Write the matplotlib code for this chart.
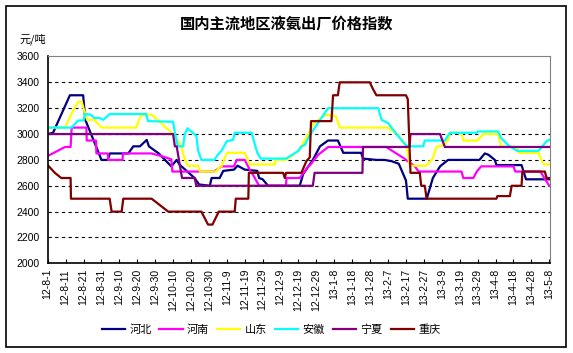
import matplotlib
matplotlib.use('Agg')
import matplotlib.pyplot as plt
from matplotlib.patches import Rectangle

plt.rcParams['font.family'] = ['Liberation Sans', 'Noto Sans CJK SC']

# days counted from 2012-08-01, values in 元/吨
hebei_days = [0, 3, 12.4, 19.8, 21, 27, 30, 33.5, 34.7, 45, 47.8, 51.5, 55.3, 56.5, 62, 69, 72, 73.5,
              82, 84.5, 90.5, 91.5, 96, 98, 104, 106, 110, 117, 118, 120, 123, 140.7, 142.6, 148, 152,
              156.5, 162, 165, 175, 176, 183.5, 188, 192, 196, 200, 201, 211.6, 215, 219, 223.5, 241,
              244, 246, 249.6, 250.5, 264.5, 267, 280]
hebei_vals = [3000, 3010, 3300, 3300, 3110, 2905, 2800, 2800, 2850, 2850, 2905, 2905, 2955, 2905, 2850,
              2750, 2800, 2765, 2660, 2610, 2600, 2660, 2660, 2715, 2725, 2755, 2725, 2715, 2660, 2650,
              2600, 2600, 2690, 2800, 2905, 2950, 2950, 2855, 2855, 2810, 2800, 2800, 2790, 2770, 2640,
              2500, 2500, 2660, 2750, 2800, 2800, 2850, 2840, 2800, 2760, 2760, 2650, 2650]

henan_days = [0, 9.7, 12.8, 13.4, 21.6, 21.8, 27, 27.2, 33.6, 33.8, 41.8, 42, 58, 64.5, 69, 69.6, 93,
              97, 104, 105.5, 110, 112.8, 115, 118, 133, 133.3, 140.7, 145.4, 146.5, 151, 156.6, 189,
              194, 198, 205, 207, 231, 232, 237.6, 239.5, 242, 260, 261, 275, 279.5, 280]
henan_vals = [2830, 2900, 2900, 3050, 3050, 2950, 2950, 2850, 2850, 2800, 2800, 2850, 2850, 2825, 2805,
              2710, 2710, 2750, 2750, 2800, 2800, 2725, 2675, 2600, 2600, 2660, 2660, 2750, 2760, 2840,
              2900, 2900, 2855, 2820, 2750, 2710, 2710, 2660, 2660, 2710, 2750, 2750, 2710, 2710, 2610,
              2600]

shandong_days = [0, 9.7, 13.4, 17, 19, 20.8, 22, 26, 30, 49.5, 51.4, 53, 58, 70, 74.6, 76.6, 78.3, 84,
                 85, 94, 96, 97, 100, 110, 112.8, 126.8, 127, 133, 140, 146, 148, 154, 156.5, 161, 163,
                 190, 195, 200, 201, 202, 211.5, 215, 217, 221, 223.5, 224.5, 231, 232, 240, 243, 251.5,
                 253, 262, 263, 274, 275, 277, 280]
shandong_vals = [3050, 3050, 3160, 3250, 3250, 3160, 3110, 3110, 3050, 3050, 3125, 3150, 3150, 3000,
                 2905, 2800, 2755, 2755, 2710, 2710, 2745, 2750, 2855, 2855, 2765, 2765, 2800, 2800,
                 2870, 3010, 3075, 3140, 3150, 3135, 3050, 3050, 3000, 2915, 2855, 2755, 2755, 2815,
                 2900, 2915, 2955, 3010, 3010, 2950, 2950, 3000, 3000, 2905, 2900, 2855, 2855, 2815,
                 2765, 2765]

anhui_days = [0, 13.4, 17, 20, 20.8, 24, 26, 29, 31, 34.7, 55, 56, 70, 71, 72.7, 75.6, 76.5, 78, 81, 83,
              84, 85.8, 93, 95, 97, 100, 103.5, 104.4, 113.8, 117, 119, 133, 140, 141.7, 143.5, 146,
              156.5, 184.5, 186.4, 190, 194.7, 199.5, 201, 209.6, 210.5, 221.7, 224.5, 239.4, 240.2,
              251.5, 253, 257, 262, 274, 278.5, 280]
anhui_vals = [3050, 3050, 3105, 3105, 3155, 3150, 3125, 3125, 3110, 3155, 3155, 3100, 3095, 3010, 2905,
              2905, 3000, 3045, 3010, 2985, 2870, 2800, 2800, 2840, 2870, 2945, 2955, 3010, 3010, 2855,
              2810, 2810, 2870, 2905, 2915, 2985, 3200, 3200, 3110, 3085, 3000, 2920, 2905, 2905, 2950,
              2950, 3010, 3010, 3020, 3020, 2970, 2915, 2870, 2870, 2945, 2955]

ningxia_days = [0, 70, 71, 72, 75, 82, 83, 148, 149, 175.7, 176, 202, 202.5, 219, 221.7, 280]
ningxia_vals = [3000, 3000, 2905, 2905, 2660, 2660, 2600, 2600, 2700, 2700, 2900, 2900, 3000, 3000,
                2900, 2900]

chongqing_days = [0, 4, 7.6, 12.8, 13, 34.6, 35.7, 41.3, 42.2, 58, 67.3, 85.8, 89.5, 92, 95.5, 104.4,
                  105, 112, 112.3, 131.4, 132.4, 133, 141.6, 144.4, 146.3, 147, 158.4, 159.3, 162, 163,
                  179.8, 181.5, 183.5, 200, 201, 202.5, 207.7, 208.5, 210.5, 211.5, 250.5, 251, 258,
                  259, 264.5, 265, 277.5, 278.5, 280]
chongqing_vals = [2760, 2700, 2660, 2660, 2500, 2500, 2400, 2400, 2500, 2500, 2400, 2400, 2300, 2300,
                  2400, 2400, 2500, 2500, 2700, 2700, 2660, 2700, 2700, 2790, 2820, 3100, 3100, 3300,
                  3300, 3400, 3400, 3350, 3300, 3300, 3270, 2700, 2700, 2600, 2600, 2500, 2500, 2520,
                  2520, 2600, 2600, 2710, 2710, 2660, 2660]

tick_days = list(range(0, 281, 10))
tick_labels = ['12-8-1', '12-8-11', '12-8-21', '12-8-31', '12-9-10', '12-9-20', '12-9-30',
               '12-10-10', '12-10-20', '12-10-30', '12-11-9', '12-11-19', '12-11-29', '12-12-9',
               '12-12-19', '12-12-29', '13-1-8', '13-1-18', '13-1-28', '13-2-7', '13-2-17',
               '13-2-27', '13-3-9', '13-3-19', '13-3-29', '13-4-8', '13-4-18', '13-4-28', '13-5-8']

names = ['河北', '河南', '山东', '安徽', '宁夏', '重庆']
colors = ['#000080', '#FF00FF', '#FFFF00', '#00FFFF', '#800080', '#800000']
series = [(hebei_days, hebei_vals), (henan_days, henan_vals), (shandong_days, shandong_vals),
          (anhui_days, anhui_vals), (ningxia_days, ningxia_vals), (chongqing_days, chongqing_vals)]

fig = plt.figure(figsize=(5.73, 3.53), dpi=100)
ax = fig.add_axes([0.0832, 0.254, 0.8767, 0.586])

for (d, v), name, c in zip(series, names, colors):
    ax.plot(d, v, color=c, lw=1.6, label=name)

ax.set_xlim(0, 280.4)
ax.set_ylim(2000, 3600)
ax.set_yticks(range(2000, 3601, 200))
ax.set_xticks(tick_days)
ax.set_xticklabels(tick_labels, rotation=90, fontsize=7.5)
ax.tick_params(axis='y', labelsize=7.5, length=0, pad=6)
ax.tick_params(axis='x', direction='in', length=3, pad=4)
for y in range(2200, 3600, 200):
    ax.axhline(y, color='black', lw=0.8, ls=(0, (3, 3)), zorder=0.5)

ax.spines['top'].set_color('#808080')
ax.spines['right'].set_color('#808080')
ax.spines['left'].set_linewidth(1.2)
ax.spines['bottom'].set_linewidth(1.2)

fig.text(0.5, 0.932, '国内主流地区液氨出厂价格指数', ha='center', va='center',
         fontsize=11, fontweight='bold', family=['Noto Sans CJK SC'])
fig.text(0.058, 0.89, '元/吨', ha='center', va='center', fontsize=8,
         family=['Noto Sans CJK SC'])

fig.legend(loc='center', bbox_to_anchor=(0.473, 0.065), ncol=6, frameon=False,
           prop={'family': ['Noto Sans CJK SC'], 'size': 8}, handlelength=2.1,
           handletextpad=0.4, columnspacing=0.7)

fig.patches.append(Rectangle((5.5 / 573, 1 - 347 / 353), 560 / 573, 341 / 353,
                             transform=fig.transFigure, fill=False, ec='black', lw=1.2))

fig.savefig('out.png', dpi=100)
